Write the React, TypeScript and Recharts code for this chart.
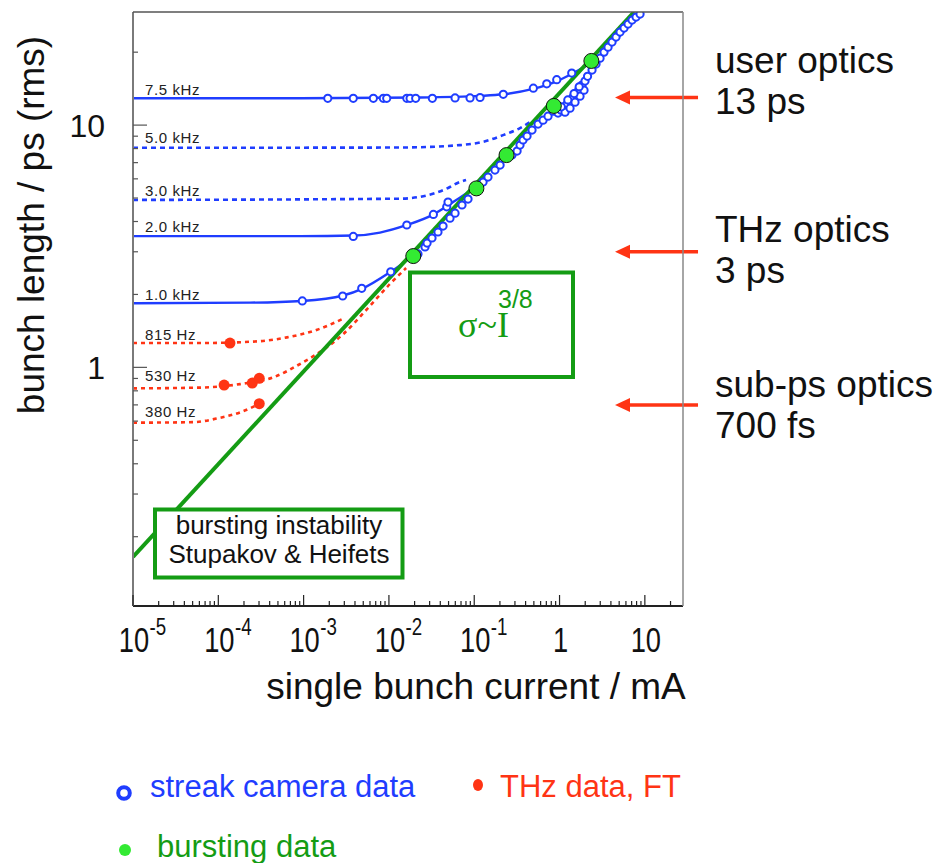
import { ComposedChart, Line, Scatter, XAxis, YAxis, ReferenceLine } from "recharts"

const BLUE = "#1f3dff"
const RED = "#ff3414"
const GREEN = "#149c14"
const LIME = "#33ea33"
const SANS = "'Liberation Sans', Arial, sans-serif"
const SERIF = "'Liberation Serif', 'Times New Roman', serif"

// axis ranges: single bunch current (mA) and bunch length (ps, rms)
const X_MIN = 1e-5
const X_MAX = 28
const Y_MIN = 0.1035
const Y_MAX = 29.3

const xDecades = [1e-5, 1e-4, 1e-3, 1e-2, 1e-1, 1, 10]
const xDecadeLabels = [["10", "-5"], ["10", "-4"], ["10", "-3"], ["10", "-2"], ["10", "-1"], ["1", ""], ["10", ""]]
const yDecades = [0.1, 1, 10]
const yDecadeLabels = ["", "1", "10"]
const decadeSteps = [1, 2, 3, 4, 5, 6, 7, 8, 9]

// bursting threshold, sigma ~ I^(3/8)
const stupakovLine = [[1e-5, 0.165], [7.47, 29.3]]

// fits for each synchrotron frequency, [current mA, bunch length ps]
const fit75kHz = [[1e-5, 12.9], [9.1e-4, 12.9], [0.0232, 13.0], [0.117, 13.2], [0.218, 13.4], [0.489, 14.1], [0.935, 15.2], [1.4, 16.3], [2.28, 18.0], [4.13, 21.6], [7.08, 26.6], [10.3, 30.4]]
const fit50kHz = [[1e-5, 8.06], [0.0135, 8.08], [0.068, 8.27], [0.127, 8.53], [0.218, 9.09], [0.344, 9.72], [0.451, 10.3]]
const fit30kHz = [[1e-5, 4.91], [0.0135, 4.97], [0.0347, 5.24], [0.0493, 5.5], [0.0646, 5.78], [0.0802, 5.93]]
const fit20kHz = [[1e-5, 3.48], [9.1e-4, 3.48], [3.9e-3, 3.5], [7.86e-3, 3.6], [0.0163, 3.87], [0.0329, 4.27], [0.048, 4.63], [0.0719, 5.09], [0.105, 5.55]]
const fit10kHz = [[1e-5, 1.84], [2.35e-4, 1.85], [9.58e-4, 1.88], [2.9e-3, 1.98], [4.84e-3, 2.11], [0.0103, 2.47], [0.019, 2.88]]
const fit815Hz = [[1e-5, 1.26], [6.1e-5, 1.26], [2.84e-4, 1.28], [6.39e-4, 1.33], [1.44e-3, 1.43], [2.82e-3, 1.58]]
const fit530Hz = [[1e-5, 0.819], [6.1e-5, 0.825], [1.8e-4, 0.853], [4.38e-4, 0.909], [9.84e-4, 1.05], [1.69e-3, 1.18], [2.9e-3, 1.37], [5.54e-3, 1.74], [0.0103, 2.21], [0.0159, 2.57]]
const fit380Hz = [[1e-5, 0.591], [5e-5, 0.594], [1e-4, 0.617], [1.8e-4, 0.652], [3.25e-4, 0.716]]

// streak camera measurements
const streak75kHz = [[1.92e-3, 12.9], [3.82e-3, 12.9], [6.57e-3, 12.9], [8.6e-3, 12.9], [9.42e-3, 12.9], [0.0162, 12.9], [0.0177, 12.9], [0.0206, 12.9], [0.0323, 12.9], [0.0596, 12.95], [0.0893, 12.95], [0.117, 13.0], [0.219, 13.4], [0.493, 14.2], [0.708, 14.8], [0.927, 15.4], [1.39, 16.4]]
const streak20kHz = [[3.82e-3, 3.47], [0.0162, 3.87], [0.0332, 4.28], [0.0476, 4.6], [0.0493, 4.81]]
const streak10kHz = [[9.66e-4, 1.88], [2.87e-3, 1.97], [4.8e-3, 2.12], [0.0105, 2.48]]
const streakBursting = [
  [0.0219, 2.94], [0.0265, 3.14], [0.028, 3.26], [0.032, 3.42], [0.0376, 3.62], [0.0431, 3.83],
  [0.052, 4.13], [0.0596, 4.33], [0.0719, 4.68], [0.0846, 4.95], [0.127, 5.82], [0.145, 6.1],
  [0.175, 6.52], [0.201, 6.84], [0.277, 7.52], [0.318, 7.81], [0.344, 8.27], [0.373, 8.68],
  [0.416, 9.01], [0.476, 9.54], [0.56, 10.1], [0.641, 10.48], [0.733, 10.89], [0.839, 11.42],
  [0.96, 11.21], [1.041, 11.53], [1.129, 11.87], [1.224, 12.21], [1.328, 12.56], [1.44, 13.05],
  [1.561, 13.56], [1.693, 14.08], [1.835, 14.63], [1.99, 15.19], [1.16, 11.31], [1.328, 11.75],
  [1.519, 12.44], [1.739, 13.17], [1.938, 13.94], [1.05, 11.9], [1.25, 12.7], [1.48, 13.5],
  [1.70, 14.4], [2.13, 15.9], [2.404, 16.87], [2.679, 17.86], [2.984, 18.9],
  [3.324, 20.01], [3.704, 20.98], [4.126, 22.01], [4.597, 23.08], [5.121, 24.2], [5.705, 25.14],
  [6.356, 26.12], [7.08, 27.13], [7.885, 27.91], [8.784, 28.72],
]

// THz (FT) measurements and bursting onsets
const thzPoints = [[1.37e-4, 1.26], [1.17e-4, 0.845], [2.5e-4, 0.861], [3.02e-4, 0.901], [3.02e-4, 0.708]]
const burstingPoints = [[0.0193, 2.88], [0.106, 5.48], [0.239, 7.52], [0.857, 12.0], [2.36, 18.4]]

// machine optics bunch lengths, ps
const opticsLengths = [13, 3, 0.7]
const opticsNames = [["user optics", "13 ps"], ["THz optics", "3 ps"], ["sub-ps optics", "700 fs"]]
const opticsTextY = [72.7, 241.7, 396.7]
const ARROW_TAIL_I = 42
const ARROW_TIP_I = 4.47

const pts = (rows: number[][]) => rows.map(([i, s]) => ({ i, s }))

const xTicks = xDecades.flatMap((d) => decadeSteps.map((m) => m * d)).filter((v) => v >= X_MIN * 0.999 && v <= X_MAX)
const yTicks = yDecades.flatMap((d) => decadeSteps.map((m) => m * d)).filter((v) => v >= Y_MIN && v <= Y_MAX)

const decadeIndex = (list: number[], v: number) => list.findIndex((d) => Math.abs(v / d - 1) < 1e-6)

const XTick = ({ x, y, payload }: any) => {
  const k = decadeIndex(xDecades, payload.value)
  const major = k >= 0
  return (
    <g>
      <line x1={x} x2={x} y1={y} y2={y - (major ? 11 : 5)} stroke="#222" strokeWidth={1.2} />
      {major && (
        <g transform={`translate(${x + 1},${y + 46}) scale(0.78,1)`} fontFamily={SANS} fill="#111">
          <text textAnchor="middle" fontSize={35}>{xDecadeLabels[k][0]}</text>
          {xDecadeLabels[k][1] && (
            <text x={20} y={-17} fontSize={24}>{xDecadeLabels[k][1]}</text>
          )}
        </g>
      )}
    </g>
  )
}

const YTick = ({ x, y, payload }: any) => {
  const k = decadeIndex(yDecades, payload.value)
  const major = k >= 0
  return (
    <g>
      <line x1={x} x2={x + (major ? 14 : 5)} y1={y} y2={y} stroke="#555" strokeWidth={1.2} />
      {major && yDecadeLabels[k] && (
        <text x={x - 28} y={y + 11.5} textAnchor="end" fontSize={32} fontFamily={SANS} fill="#111">
          {yDecadeLabels[k]}
        </text>
      )}
    </g>
  )
}

// frequency tag written just above the flat start of each fit
const curveTag = (text: string, dy: number) => (p: any) =>
  p.index === 0 ? (
    <text x={p.x + 12} y={p.y + dy} fontSize={15} fontFamily={SANS} fill="#222" letterSpacing={0.6}>
      {text}
    </text>
  ) : (
    <g />
  )

const OpenRing = ({ cx, cy }: any) => <circle cx={cx} cy={cy} r={3.6} fill="#fff" stroke={BLUE} strokeWidth={2} />
const RedDot = ({ cx, cy }: any) => <circle cx={cx} cy={cy} r={5.5} fill={RED} />
const BurstDot = ({ cx, cy }: any) => <circle cx={cx} cy={cy} r={7.5} fill={LIME} stroke="#111" strokeWidth={1} />

const Arrow = ({ x1, y1, x2, y2 }: any) => (
  <g>
    <line x1={x1} y1={y1} x2={x2 + 12} y2={y2} stroke={RED} strokeWidth={3.5} />
    <polygon points={`${x2},${y2} ${x2 + 15},${y2 - 7} ${x2 + 15},${y2 + 7}`} fill={RED} />
  </g>
)

const fitLine = (rows: number[][], color: string, dashed: boolean, tag: string, dy: number) => (
  <Line
    key={tag}
    data={pts(rows)}
    dataKey="s"
    type="monotone"
    stroke={color}
    strokeWidth={dashed ? 2.6 : 2.4}
    strokeDasharray={dashed ? (color === RED ? "4 4" : "5 4") : undefined}
    dot={false}
    activeDot={false}
    isAnimationActive={false}
    label={curveTag(tag, dy)}
  />
)

const Annotations = () => (
  <svg width={941} height={863} style={{ position: "absolute", left: 0, top: 0, pointerEvents: "none" }}>
    {/* top and right sides of the frame */}
    <line x1={133} y1={12} x2={683} y2={12} stroke="#555" strokeWidth={1.5} />
    <line x1={683} y1={12} x2={683} y2={606} stroke="#888" strokeWidth={1.5} />

    <text transform="translate(44,225) rotate(-90)" textAnchor="middle" fontSize={37} fontFamily={SANS} fill="#111">
      bunch length / ps (rms)
    </text>
    <text x={476} y={699} textAnchor="middle" fontSize={37} fontFamily={SANS} fill="#111">
      single bunch current / mA
    </text>

    {opticsNames.map((lines, k) => (
      <g key={lines[0]} fontFamily={SANS} fontSize={37} fill="#111">
        <text x={715} y={opticsTextY[k]}>{lines[0]}</text>
        <text x={715} y={opticsTextY[k] + 41}>{lines[1]}</text>
      </g>
    ))}

    <rect x={410} y={272.5} width={163} height={104.5} fill="none" stroke={GREEN} strokeWidth={4} />
    <text x={458} y={337} fontFamily={SERIF} fontSize={36} fill={GREEN}>σ~I</text>
    <text x={498} y={308} fontFamily={SANS} fontSize={25} fill={GREEN}>3/8</text>

    <rect x={155} y={509.5} width={247.5} height={68} fill="#fff" stroke={GREEN} strokeWidth={4} />
    <text x={279} y={534} textAnchor="middle" fontFamily={SANS} fontSize={26} fill="#111">bursting instability</text>
    <text x={279} y={563} textAnchor="middle" fontFamily={SANS} fontSize={26} fill="#111">Stupakov &amp; Heifets</text>

    <circle cx={124} cy={793} r={5.8} fill="#fff" stroke={BLUE} strokeWidth={4} />
    <text x={150} y={797} fontFamily={SANS} fontSize={31} fill={BLUE}>streak camera data</text>
    <ellipse cx={478} cy={785} rx={5} ry={6} fill={RED} />
    <text x={500} y={797} fontFamily={SANS} fontSize={31} fill={RED}>THz data, FT</text>
    <circle cx={125} cy={850} r={6} fill={LIME} />
    <text x={157} y={857} fontFamily={SANS} fontSize={31} fill={GREEN}>bursting data</text>
  </svg>
)

export default function App() {
  return (
    <div style={{ position: "absolute", left: 0, top: 0, width: 941, height: 863, background: "#fff" }}>
      <ComposedChart width={941} height={863} margin={{ top: 12, right: 258, bottom: 197, left: 73 }}>
        <XAxis
          dataKey="i"
          type="number"
          scale="log"
          domain={[X_MIN, X_MAX]}
          allowDataOverflow
          ticks={xTicks}
          interval={0}
          tick={<XTick />}
          tickLine={false}
          tickSize={0}
          tickMargin={0}
          height={60}
          axisLine={{ stroke: "#222", strokeWidth: 2 }}
        />
        <YAxis
          dataKey="s"
          type="number"
          scale="log"
          domain={[Y_MIN, Y_MAX]}
          allowDataOverflow
          ticks={yTicks}
          interval={0}
          tick={<YTick />}
          tickLine={false}
          tickSize={0}
          tickMargin={0}
          width={60}
          axisLine={{ stroke: "#7a7a7a", strokeWidth: 2 }}
        />

        {fitLine(fit815Hz, RED, true, "815 Hz", -3.5)}
        {fitLine(fit530Hz, RED, true, "530 Hz", -7)}
        {fitLine(fit380Hz, RED, true, "380 Hz", -6)}
        {fitLine(fit75kHz, BLUE, false, "7.5 kHz", -3)}
        {fitLine(fit50kHz, BLUE, true, "5.0 kHz", -5)}
        {fitLine(fit30kHz, BLUE, true, "3.0 kHz", -4)}
        {fitLine(fit20kHz, BLUE, false, "2.0 kHz", -4)}
        {fitLine(fit10kHz, BLUE, false, "1.0 kHz", -3)}

        <Scatter data={pts([...streak75kHz, ...streak20kHz, ...streak10kHz, ...streakBursting])} dataKey="s" shape={<OpenRing />} isAnimationActive={false} />

        <Line data={pts(stupakovLine)} dataKey="s" type="linear" stroke={GREEN} strokeWidth={4} dot={false} activeDot={false} isAnimationActive={false} />

        <Scatter data={pts(thzPoints)} dataKey="s" shape={<RedDot />} isAnimationActive={false} />
        <Scatter data={pts(burstingPoints)} dataKey="s" shape={<BurstDot />} isAnimationActive={false} />

        {opticsLengths.map((s) => (
          <ReferenceLine
            key={s}
            segment={[{ x: ARROW_TAIL_I, y: s }, { x: ARROW_TIP_I, y: s }]}
            ifOverflow="visible"
            shape={<Arrow />}
          />
        ))}
      </ComposedChart>
      <Annotations />
    </div>
  )
}
